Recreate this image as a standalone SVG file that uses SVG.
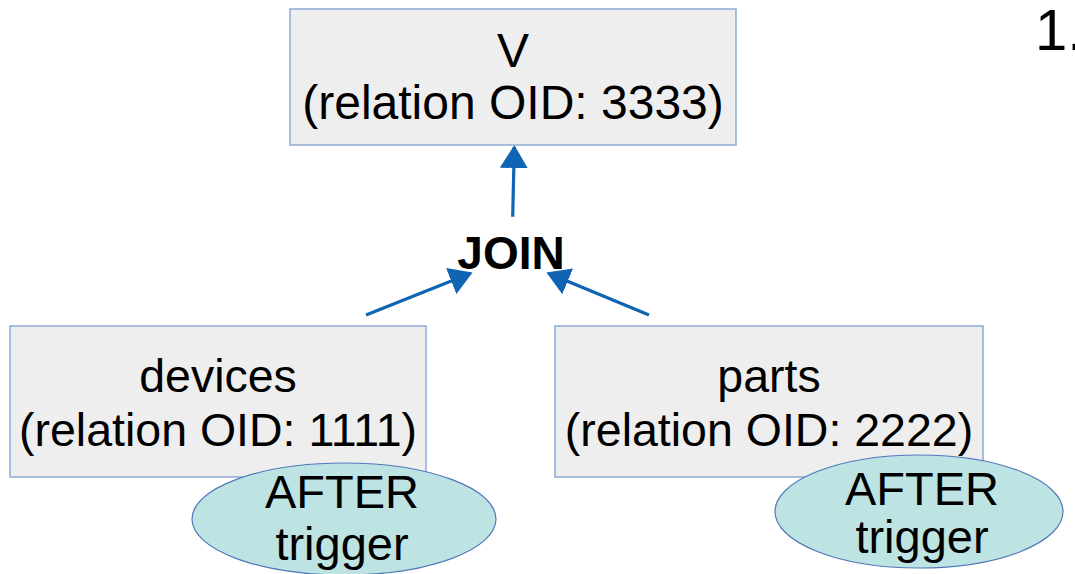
<svg xmlns="http://www.w3.org/2000/svg" width="1075" height="574" viewBox="0 0 1075 574">
<style>
.box{fill:#eeeeee;stroke:#8eaad6;stroke-width:1.5}
.ell{fill:#bde3e3;stroke:#4f78b8;stroke-width:1.2}
.t{font-family:"Liberation Sans",Arial,sans-serif;fill:#000;text-anchor:middle}
.edge{stroke:#0f65b3;stroke-width:3.2;fill:none;marker-end:url(#ah)}
</style>
<defs>
<marker id="ah" markerUnits="userSpaceOnUse" markerWidth="24" markerHeight="28" refX="21" refY="14" orient="auto" viewBox="0 0 24 28">
<path d="M0,0 L23,14 L0,28 z" fill="#0f65b3"/>
</marker>
</defs>
<rect width="1075" height="574" fill="#fff"/>
<g id="connectors">
<line class="edge" x1="512.7" y1="216.7" x2="514.3" y2="147"/>
<line class="edge" x1="366" y1="315" x2="470.7" y2="273.3"/>
<line class="edge" x1="649" y1="315" x2="548.3" y2="273.3"/>
</g>
<g id="node-v">
<rect class="box" x="290" y="9" width="446" height="136"/>
<text class="t" x="513" y="67" font-size="48">V</text>
<text class="t" x="513" y="119" font-size="48">(relation OID: 3333)</text>
</g>
<g id="node-join">
<text class="t" x="511" y="269" font-size="46" font-weight="bold">JOIN</text>
</g>
<g id="node-devices">
<rect class="box" x="10" y="326" width="416" height="151"/>
<text class="t" x="218" y="392" font-size="46.5">devices</text>
<text class="t" x="218" y="446" font-size="46.5">(relation OID: 1111)</text>
</g>
<g id="node-parts">
<rect class="box" x="555" y="326" width="428" height="151"/>
<text class="t" x="769" y="392" font-size="46.5">parts</text>
<text class="t" x="769" y="446" font-size="46.5">(relation OID: 2222)</text>
</g>
<g id="node-trigger1">
<ellipse class="ell" cx="344" cy="519" rx="152" ry="56"/>
<text class="t" x="342" y="508" font-size="47">AFTER</text>
<text class="t" x="342" y="560" font-size="47">trigger</text>
</g>
<g id="node-trigger2">
<ellipse class="ell" cx="919" cy="511.5" rx="144" ry="56.5"/>
<text class="t" x="922" y="505" font-size="47">AFTER</text>
<text class="t" x="922" y="553" font-size="47">trigger</text>
</g>
<g id="page-number">
<text font-family="Liberation Sans,Arial,sans-serif" x="1035" y="50" font-size="58" fill="#000">1.</text>
</g>
</svg>
